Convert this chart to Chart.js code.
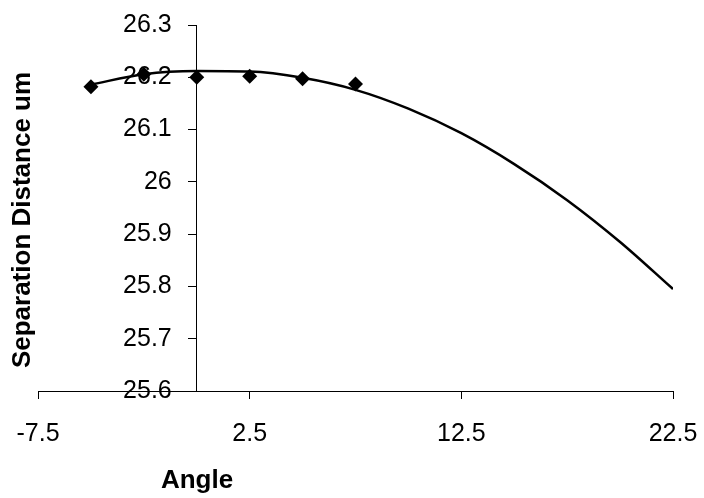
<!DOCTYPE html>
<html>
<head>
<meta charset="utf-8">
<title>Separation Distance vs Angle</title>
<script src="https://cdn.jsdelivr.net/npm/chart.js"></script>
<style>
  html, body { margin: 0; padding: 0; background: #fff; }
  #wrap { width: 704px; height: 498px; }
</style>
</head>
<body>
<div id="wrap"><canvas id="chartCanvas"></canvas></div>
<script>
// measured points
const angles = [-5, -2.5, 0, 2.5, 5, 7.5];
const distances = [26.182, 26.206, 26.200, 26.202, 26.197, 26.187];

// trendline
const trendAngles = [-5, -2.5, 0, 2.5, 5, 7.5, 10, 12.5, 15, 17.5, 20, 22.5];
const trendValues = [26.186, 26.206, 26.212, 26.211, 26.199, 26.176, 26.140, 26.093, 26.034, 25.965, 25.885, 25.795];

// tick labels
const xTicks = [-7.5, 2.5, 12.5, 22.5];
const yTicks = [25.6, 25.7, 25.8, 25.9, 26, 26.1, 26.2, 26.3];

const xTitle = 'Angle';
const yTitle = 'Separation Distance um';

const FONT = "'Liberation Sans', Arial, sans-serif";

// axis titles sit where they do in the original, not where the scales would put them
const axisTitles = {
  id: 'axisTitles',
  afterDraw(chart) {
    const ctx = chart.ctx;
    ctx.save();
    ctx.fillStyle = '#000';
    ctx.font = 'bold 26px ' + FONT;
    ctx.textAlign = 'center';
    ctx.textBaseline = 'middle';
    ctx.fillText(xTitle, 197, 481);
    ctx.translate(23, 220);
    ctx.rotate(-Math.PI / 2);
    ctx.fillText(yTitle, 0, 0);
    ctx.restore();
  }
};

const ctx = document.getElementById('chartCanvas').getContext('2d');
new Chart(ctx, {
  type: 'scatter',
  data: {
    datasets: [
      {
        label: 'trend',
        data: trendAngles.map((a, i) => ({ x: a, y: trendValues[i] })),
        showLine: true,
        borderColor: '#000',
        borderWidth: 2.5,
        pointRadius: 0,
        cubicInterpolationMode: 'monotone',
        fill: false
      },
      {
        label: 'data',
        data: angles.map((a, i) => ({ x: a, y: distances[i] })),
        showLine: false,
        pointStyle: 'rectRot',
        pointRadius: 7.5,
        pointBackgroundColor: '#000',
        pointBorderColor: '#000',
        pointBorderWidth: 0
      }
    ]
  },
  options: {
    responsive: true,
    maintainAspectRatio: false,
    animation: false,
    events: [],
    layout: { padding: { left: 38, right: 31, top: 25, bottom: 0 } },
    plugins: {
      legend: { display: false },
      tooltip: { enabled: false }
    },
    scales: {
      x: {
        type: 'linear',
        position: 'bottom',
        min: -7.5,
        max: 22.5,
        afterBuildTicks: (axis) => { axis.ticks = xTicks.map(v => ({ value: v })); },
        afterFit: (axis) => {
          // keep the plot box where the original has it
          axis.paddingLeft = 0;
          axis.paddingRight = 0;
          axis.height = 107;
        },
        ticks: {
          color: '#000',
          font: { family: FONT, size: 25, lineHeight: 1.2 },
          padding: 20,
          maxRotation: 0,
          autoSkip: false,
          callback: (v) => String(v)
        },
        grid: { drawOnChartArea: false, color: '#000', tickLength: 8, tickWidth: 1 },
        border: { color: '#000', width: 1 }
      },
      y: {
        type: 'linear',
        position: { x: 0 },
        min: 25.6,
        max: 26.3,
        afterBuildTicks: (axis) => { axis.ticks = yTicks.map(v => ({ value: v })); },
        afterFit: (axis) => {
          axis.paddingTop = 0;
          axis.paddingBottom = 0;
          // labels of an axis placed at x=0 hug the line; push them left of the tick marks
          if (!axis._shifted) {
            axis._shifted = true;
            const orig = axis._computeLabelItems;
            axis._computeLabelItems = function (area) {
              const items = orig.call(this, area);
              items.forEach(it => { it.options.translation[0] -= 25; });
              return items;
            };
          }
        },
        ticks: {
          color: '#000',
          font: { family: FONT, size: 25, lineHeight: 1.2 },
          padding: 17,
          autoSkip: false,
          callback: (v) => String(Math.round(v * 10) / 10)
        },
        grid: { drawOnChartArea: false, color: '#000', tickLength: 8, tickWidth: 1 },
        border: { color: '#000', width: 1 }
      }
    }
  },
  plugins: [axisTitles]
});
</script>
</body>
</html>
